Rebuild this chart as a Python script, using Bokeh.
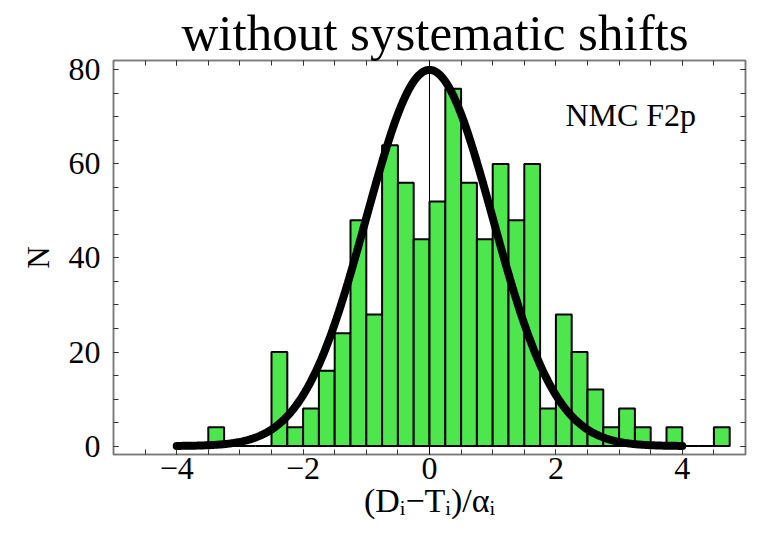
import numpy as np
from bokeh.plotting import figure
from bokeh.models import Range1d, SingleIntervalTicker, LinearAxis, Span, Label, ColumnDataSource
from bokeh.embed import file_html
from bokeh.resources import INLINE

# ---- data ----
bin_left = [-4.0, -3.75, -3.5, -3.25, -3.0, -2.75, -2.5, -2.25, -2.0, -1.75,
            -1.5, -1.25, -1.0, -0.75, -0.5, -0.25, 0.0, 0.25, 0.5, 0.75,
            1.0, 1.25, 1.5, 1.75, 2.0, 2.25, 2.5, 2.75, 3.0, 3.25,
            3.5, 3.75, 4.0, 4.25, 4.5]
bin_width = 0.25
counts = [0, 0, 4, 0, 0, 0, 20, 4, 8, 16,
          24, 48, 28, 64, 56, 44, 52, 76, 56, 44,
          60, 48, 60, 8, 28, 20, 12, 4, 8, 4,
          0, 4, 0, 0, 4]

# normal curve overlay: peak height and width
gauss_peak = 80.0
gauss_sigma = 1.0
gauss_xmin, gauss_xmax = -4.0, 4.0

title_text = "without systematic shifts"
x_label = "(D\u1d62\u2212T\u1d62)/\u03b1\u1d62"
y_label = "N"
tag_text = "NMC F2p"

SERIF = "Liberation Serif"
GREEN = "#4de64d"
FRAME = "#7a7a7a"

p = figure(width=747, height=521,
           x_range=Range1d(-5, 5), y_range=Range1d(-1.8, 82),
           output_backend="svg", toolbar_location=None,
           min_border_left=113, min_border_right=2,
           min_border_top=60, min_border_bottom=65)
p.xgrid.visible = False
p.ygrid.visible = False
p.outline_line_color = FRAME
p.outline_line_width = 1.5

p.title.text = title_text
p.title.text_font = SERIF
p.title.text_font_size = "51px"
p.title.text_font_style = "normal"
p.title.text_color = "black"
p.title.align = "left"
p.title.standoff = 0
p.title.offset = 68

src = ColumnDataSource(dict(
    left=bin_left,
    right=[b + bin_width for b in bin_left],
    top=counts,
    bottom=[0] * len(counts),
))
p.quad(left="left", right="right", top="top", bottom="bottom", source=src,
       fill_color=GREEN, line_color="black", line_width=2)

p.add_layout(Span(location=0, dimension="height", line_color="black", line_width=1))

gx = np.linspace(gauss_xmin, gauss_xmax, 400)
gy = gauss_peak * np.exp(-0.5 * (gx / gauss_sigma) ** 2)
p.line(gx, gy, line_color="black", line_width=8, line_cap="round")

p.add_layout(Label(x=2.15, y=70.5, text=tag_text, text_font=SERIF,
                   text_font_size="32px", text_color="black",
                   text_baseline="alphabetic"))

def style_axis(ax, show_labels):
    ax.axis_line_color = FRAME
    ax.axis_line_width = 1.5
    ax.major_tick_in = 5
    ax.major_tick_out = 0
    ax.minor_tick_in = 5
    ax.minor_tick_out = 0
    ax.major_tick_line_color = "#333333"
    ax.minor_tick_line_color = "#333333"
    if show_labels:
        ax.major_label_text_font = SERIF
        ax.major_label_text_font_size = "32px"
        ax.major_label_text_color = "black"
        ax.axis_label_text_font = SERIF
        ax.axis_label_text_font_size = "31px"
        ax.axis_label_text_font_style = "normal"
        ax.axis_label_text_color = "black"
    else:
        ax.major_label_text_font_size = "1px"
        ax.major_label_text_color = None
        ax.major_label_standoff = 0

xt = SingleIntervalTicker(interval=2, num_minor_ticks=4)
yt = SingleIntervalTicker(interval=20, num_minor_ticks=4)

p.xaxis.ticker = xt
p.yaxis.ticker = yt
style_axis(p.xaxis[0], True)
style_axis(p.yaxis[0], True)
p.xaxis.axis_label = x_label
p.xaxis.axis_label_text_font_size = "34px"
p.yaxis.axis_label = y_label
p.xaxis.major_label_standoff = 3
p.xaxis.axis_label_standoff = 0
p.yaxis.major_label_standoff = 13
p.yaxis.axis_label_standoff = 10
p.yaxis.major_label_orientation = "horizontal"

top_ax = LinearAxis(ticker=SingleIntervalTicker(interval=2, num_minor_ticks=4))
right_ax = LinearAxis(ticker=SingleIntervalTicker(interval=20, num_minor_ticks=4))
style_axis(top_ax, False)
style_axis(right_ax, False)
p.add_layout(top_ax, "above")
p.add_layout(right_ax, "right")

open("out.html", "w").write(file_html(p, INLINE))
